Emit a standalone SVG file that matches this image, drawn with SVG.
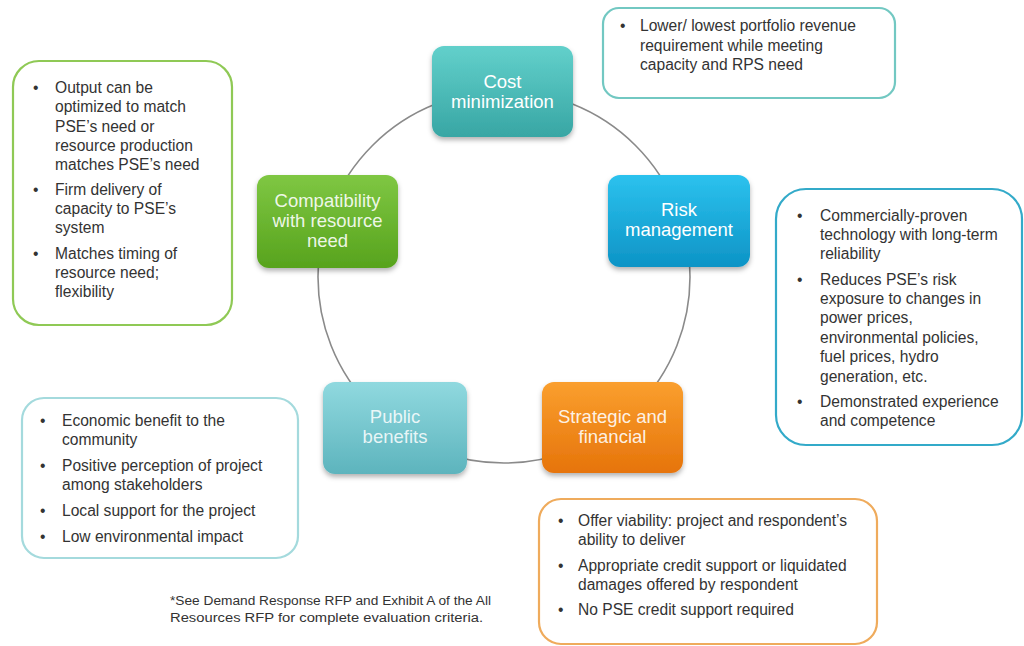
<svg xmlns="http://www.w3.org/2000/svg" width="1024" height="646" viewBox="0 0 1024 646">
<defs>
<linearGradient id="gCost" x1="0" y1="0" x2="0" y2="1"><stop offset="0" stop-color="#62d0cb"/><stop offset="1" stop-color="#38a6a4"/></linearGradient>
<linearGradient id="gRisk" x1="0" y1="0" x2="0" y2="1"><stop offset="0" stop-color="#2cc2ee"/><stop offset="1" stop-color="#0d94c6"/></linearGradient>
<linearGradient id="gStrat" x1="0" y1="0" x2="0" y2="1"><stop offset="0" stop-color="#fa9f2e"/><stop offset="1" stop-color="#e6740a"/></linearGradient>
<linearGradient id="gPub" x1="0" y1="0" x2="0" y2="1"><stop offset="0" stop-color="#90d9df"/><stop offset="1" stop-color="#5db4bd"/></linearGradient>
<linearGradient id="gComp" x1="0" y1="0" x2="0" y2="1"><stop offset="0" stop-color="#7fc743"/><stop offset="1" stop-color="#57a31d"/></linearGradient>
<filter id="sh" x="-20%" y="-20%" width="140%" height="150%"><feDropShadow dx="0" dy="3" stdDeviation="2.5" flood-color="#000" flood-opacity="0.3"/></filter>
</defs>
<style>
.node{filter:url(#sh)}
.nt{font-family:"Liberation Sans",Arial,sans-serif;font-size:18.5px;fill:#ffffff;text-anchor:middle}
.box{fill:#ffffff;stroke-width:2.2}
.bt{font-family:"Liberation Sans",Arial,sans-serif;font-size:15.6px;fill:#333333}
.fn{font-family:"Liberation Sans",Arial,sans-serif;font-size:12px;fill:#333333}
.conn{fill:none;stroke:#8a8a8a;stroke-width:1.6}
</style>
<rect width="1024" height="646" fill="#ffffff"/>
<g id="connectors">
<circle class="conn" cx="504" cy="277" r="186"/>
</g>
<g id="node-cost">
<rect class="node" x="432" y="46" width="141" height="91" rx="12" fill="url(#gCost)"/>
<text class="nt" x="502.5" y="88">Cost</text>
<text class="nt" x="502.5" y="108">minimization</text>
</g>
<g id="node-risk">
<rect class="node" x="608" y="175" width="142" height="92" rx="12" fill="url(#gRisk)"/>
<text class="nt" x="679" y="216">Risk</text>
<text class="nt" x="679" y="236">management</text>
</g>
<g id="node-strategic">
<rect class="node" x="542" y="382" width="141" height="91" rx="12" fill="url(#gStrat)"/>
<text class="nt" x="612.5" y="423" fill-opacity="0.9">Strategic and</text>
<text class="nt" x="612.5" y="443" fill-opacity="0.9">financial</text>
</g>
<g id="node-public">
<rect class="node" x="323" y="382" width="144" height="92" rx="12" fill="url(#gPub)"/>
<text class="nt" x="395" y="423" fill-opacity="0.85">Public</text>
<text class="nt" x="395" y="443" fill-opacity="0.85">benefits</text>
</g>
<g id="node-compat">
<rect class="node" x="257" y="175" width="141" height="93" rx="12" fill="url(#gComp)"/>
<text class="nt" x="327.5" y="207" fill-opacity="0.9">Compatibility</text>
<text class="nt" x="327.5" y="227" fill-opacity="0.9">with resource</text>
<text class="nt" x="327.5" y="247" fill-opacity="0.9">need</text>
</g>
<g id="box-compat">
<rect class="box" x="13" y="61" width="219" height="264" rx="26" stroke="#8fc955"/>
<text class="bt"><tspan x="33" y="93">•</tspan><tspan x="55" y="93">Output can be</tspan><tspan x="55" y="112">optimized to match</tspan><tspan x="55" y="132">PSE’s need or</tspan><tspan x="55" y="151">resource production</tspan><tspan x="55" y="170">matches PSE’s need</tspan>
<tspan x="33" y="195">•</tspan><tspan x="55" y="195">Firm delivery of</tspan><tspan x="55" y="214">capacity to PSE’s</tspan><tspan x="55" y="233">system</tspan>
<tspan x="33" y="259">•</tspan><tspan x="55" y="259">Matches timing of</tspan><tspan x="55" y="278">resource need;</tspan><tspan x="55" y="297">flexibility</tspan></text>
</g>
<g id="box-cost">
<rect class="box" x="603" y="8" width="292" height="90" rx="16" stroke="#72c8c2"/>
<text class="bt"><tspan x="620" y="31">•</tspan><tspan x="640" y="31">Lower/ lowest portfolio revenue</tspan><tspan x="640" y="51">requirement while meeting</tspan><tspan x="640" y="70">capacity and RPS need</tspan></text>
</g>
<g id="box-risk">
<rect class="box" x="776" y="189" width="246" height="256" rx="30" stroke="#33aac9"/>
<text class="bt"><tspan x="797" y="221">•</tspan><tspan x="820" y="221">Commercially-proven</tspan><tspan x="820" y="240">technology with long-term</tspan><tspan x="820" y="259">reliability</tspan>
<tspan x="797" y="285">•</tspan><tspan x="820" y="285">Reduces PSE’s risk</tspan><tspan x="820" y="304">exposure to changes in</tspan><tspan x="820" y="323">power prices,</tspan><tspan x="820" y="343">environmental policies,</tspan><tspan x="820" y="362">fuel prices, hydro</tspan><tspan x="820" y="382">generation, etc.</tspan>
<tspan x="797" y="407">•</tspan><tspan x="820" y="407">Demonstrated experience</tspan><tspan x="820" y="426">and competence</tspan></text>
</g>
<g id="box-public">
<rect class="box" x="22" y="398" width="276" height="160" rx="22" stroke="#a4dadd"/>
<text class="bt"><tspan x="40" y="426">•</tspan><tspan x="62" y="426">Economic benefit to the</tspan><tspan x="62" y="445">community</tspan>
<tspan x="40" y="471">•</tspan><tspan x="62" y="471">Positive perception of project</tspan><tspan x="62" y="490">among stakeholders</tspan>
<tspan x="40" y="516">•</tspan><tspan x="62" y="516">Local support for the project</tspan>
<tspan x="40" y="542">•</tspan><tspan x="62" y="542">Low environmental  impact</tspan></text>
</g>
<g id="box-strategic">
<rect class="box" x="539" y="499" width="338" height="145" rx="22" stroke="#efab5c"/>
<text class="bt"><tspan x="558" y="526">•</tspan><tspan x="578" y="526">Offer viability: project and respondent’s</tspan><tspan x="578" y="545">ability to deliver</tspan>
<tspan x="558" y="571">•</tspan><tspan x="578" y="571">Appropriate credit support or liquidated</tspan><tspan x="578" y="590">damages offered by respondent</tspan>
<tspan x="558" y="615">•</tspan><tspan x="578" y="615">No PSE credit support required</tspan></text>
</g>
<g id="footnote">
<text class="fn" x="170" y="605" textLength="321" lengthAdjust="spacingAndGlyphs">*See Demand Response RFP and Exhibit A of the All</text>
<text class="fn" x="170" y="622" textLength="313" lengthAdjust="spacingAndGlyphs">Resources RFP for complete evaluation criteria.</text>
</g>
</svg>
